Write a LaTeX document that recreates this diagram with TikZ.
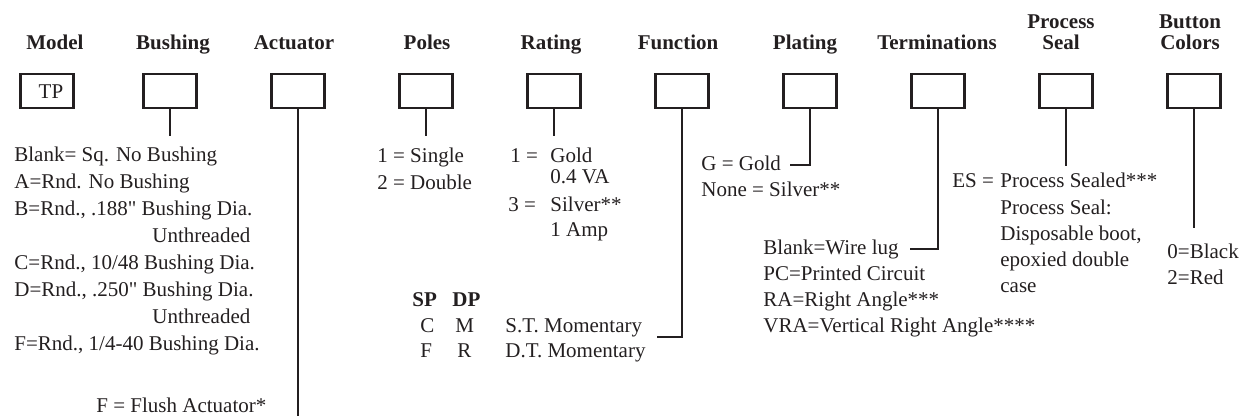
\documentclass[tikz,border=0pt]{standalone}
\usepackage{fontspec}
\setmainfont{Liberation Serif}[Ligatures=TeXOff]
\definecolor{ink}{HTML}{231F20}
\begin{document}
\begin{tikzpicture}[x=0.5pt,y=-0.5pt,
  box/.style={draw=ink,line width=1.25pt,minimum width=26.5pt,minimum height=17pt,inner sep=0pt},
  ttl/.style={anchor=base,inner sep=0pt,text=ink,font=\fontsize{10.5}{10.5}\selectfont\bfseries},
  txt/.style={anchor=base west,inner sep=0pt,text=ink,font=\fontsize{10.5}{10.5}\selectfont},
  btxt/.style={txt,font=\fontsize{10.5}{10.5}\selectfont\bfseries},
  con/.style={draw=ink,line width=0.55pt}]
\useasboundingbox (0,0) rectangle (1247,416);

% titles
\node[ttl] (tModel) at (55,50) {Model};
\node[ttl] (tBush) at (173,50) {Bushing};
\node[ttl] (tAct) at (294,50) {Actuator};
\node[ttl] (tPoles) at (427,50) {Poles};
\node[ttl] (tRating) at (551,50) {Rating};
\node[ttl] (tFunc) at (678,50) {Function};
\node[ttl] (tPlat) at (805,50) {Plating};
\node[ttl] (tTerm) at (937,50) {Terminations};
\node[ttl] (tProcA) at (1061,29) {Process};
\node[ttl] (tProcB) at (1061,50) {Seal};
\node[ttl] (tButA) at (1190,29) {Button};
\node[ttl] (tButB) at (1190,50) {Colors};

% boxes
\node[box] (bModel) at (47,91) {};
\node[txt,anchor=base] (tp) at (51,99) {TP};
\node[box] (bBush) at (170,91) {};
\node[box] (bAct) at (298,91) {};
\node[box] (bPoles) at (426,91) {};
\node[box] (bRating) at (554,91) {};
\node[box] (bFunc) at (682,91) {};
\node[box] (bPlat) at (810,91) {};
\node[box] (bTerm) at (938,91) {};
\node[box] (bProc) at (1066,91) {};
\node[box] (bBut) at (1194,91) {};

% connector ends
\coordinate (eBush) at (170,136);
\coordinate (eAct) at (298,416);
\coordinate (ePoles) at (426,136);
\coordinate (eRating) at (554,136);
\coordinate (eFunc) at (657,337);
\coordinate (ePlat) at (790,165);
\coordinate (eTerm) at (910,249);
\coordinate (eProc) at (1066,166);
\coordinate (eBut) at (1194,228);

\draw[con] (bBush.south) -- (eBush);
\draw[con] (bAct.south) -- (eAct);
\draw[con] (bPoles.south) -- (ePoles);
\draw[con] (bRating.south) -- (eRating);
\draw[con] (bFunc.south) |- (eFunc);
\draw[con] (bPlat.south) |- (ePlat);
\draw[con] (bTerm.south) |- (eTerm);
\draw[con] (bProc.south) -- (eProc);
\draw[con] (bBut.south) -- (eBut);

% bushing
\node[txt] (bu1) at (14,162) {Blank= Sq. No Bushing};
\node[txt] (bu2) at (14,189) {A=Rnd. No Bushing};
\node[txt] (bu3) at (14,216) {B=Rnd., .188" Bushing Dia.};
\node[txt] (bu4) at (152,243) {Unthreaded};
\node[txt] (bu5) at (14,270) {C=Rnd., 10/48 Bushing Dia.};
\node[txt] (bu6) at (14,297) {D=Rnd., .250" Bushing Dia.};
\node[txt] (bu7) at (152,324) {Unthreaded};
\node[txt] (bu8) at (14,351) {F=Rnd., 1/4-40 Bushing Dia.};

% actuator
\node[txt] (ac1) at (96,413) {F = Flush Actuator*};

% poles
\node[txt] (po1) at (377,163) {1 = Single};
\node[txt] (po2) at (377,190) {2 = Double};

% rating
\node[txt] (ra1) at (510,163) {1 =};
\node[txt] (ra2) at (550,163) {Gold};
\node[txt] (ra3) at (550,184) {0.4 VA};
\node[txt] (ra4) at (508,212) {3 =};
\node[txt] (ra5) at (550,212) {Silver**};
\node[txt] (ra6) at (550,237) {1 Amp};

% function
\node[btxt] (fu1) at (412,307) {SP};
\node[btxt] (fu2) at (452,307) {DP};
\node[txt] (fu3) at (420,333) {C};
\node[txt] (fu4) at (455,333) {M};
\node[txt] (fu5) at (505,333) {S.T. Momentary};
\node[txt] (fu6) at (420,358) {F};
\node[txt] (fu7) at (457,358) {R};
\node[txt] (fu8) at (505,358) {D.T. Momentary};

% plating
\node[txt] (pl1) at (701,171) {G = Gold};
\node[txt] (pl2) at (701,197) {None = Silver**};

% terminations
\node[txt] (te1) at (763,255) {Blank=Wire lug};
\node[txt] (te2) at (763,281) {PC=Printed Circuit};
\node[txt] (te3) at (763,307) {RA=Right Angle***};
\node[txt] (te4) at (763,333) {VRA=Vertical Right Angle****};

% process seal
\node[txt] (ps0) at (952,188) {ES =};
\node[txt] (ps1) at (1000,188) {Process Sealed***};
\node[txt] (ps2) at (1000,215) {Process Seal:};
\node[txt] (ps3) at (1000,241) {Disposable boot,};
\node[txt] (ps4) at (1000,267) {epoxied double};
\node[txt] (ps5) at (1000,293) {case};

% button colors
\node[txt] (bc1) at (1167,259) {0=Black};
\node[txt] (bc2) at (1167,285) {2=Red};
\end{tikzpicture}
\end{document}
